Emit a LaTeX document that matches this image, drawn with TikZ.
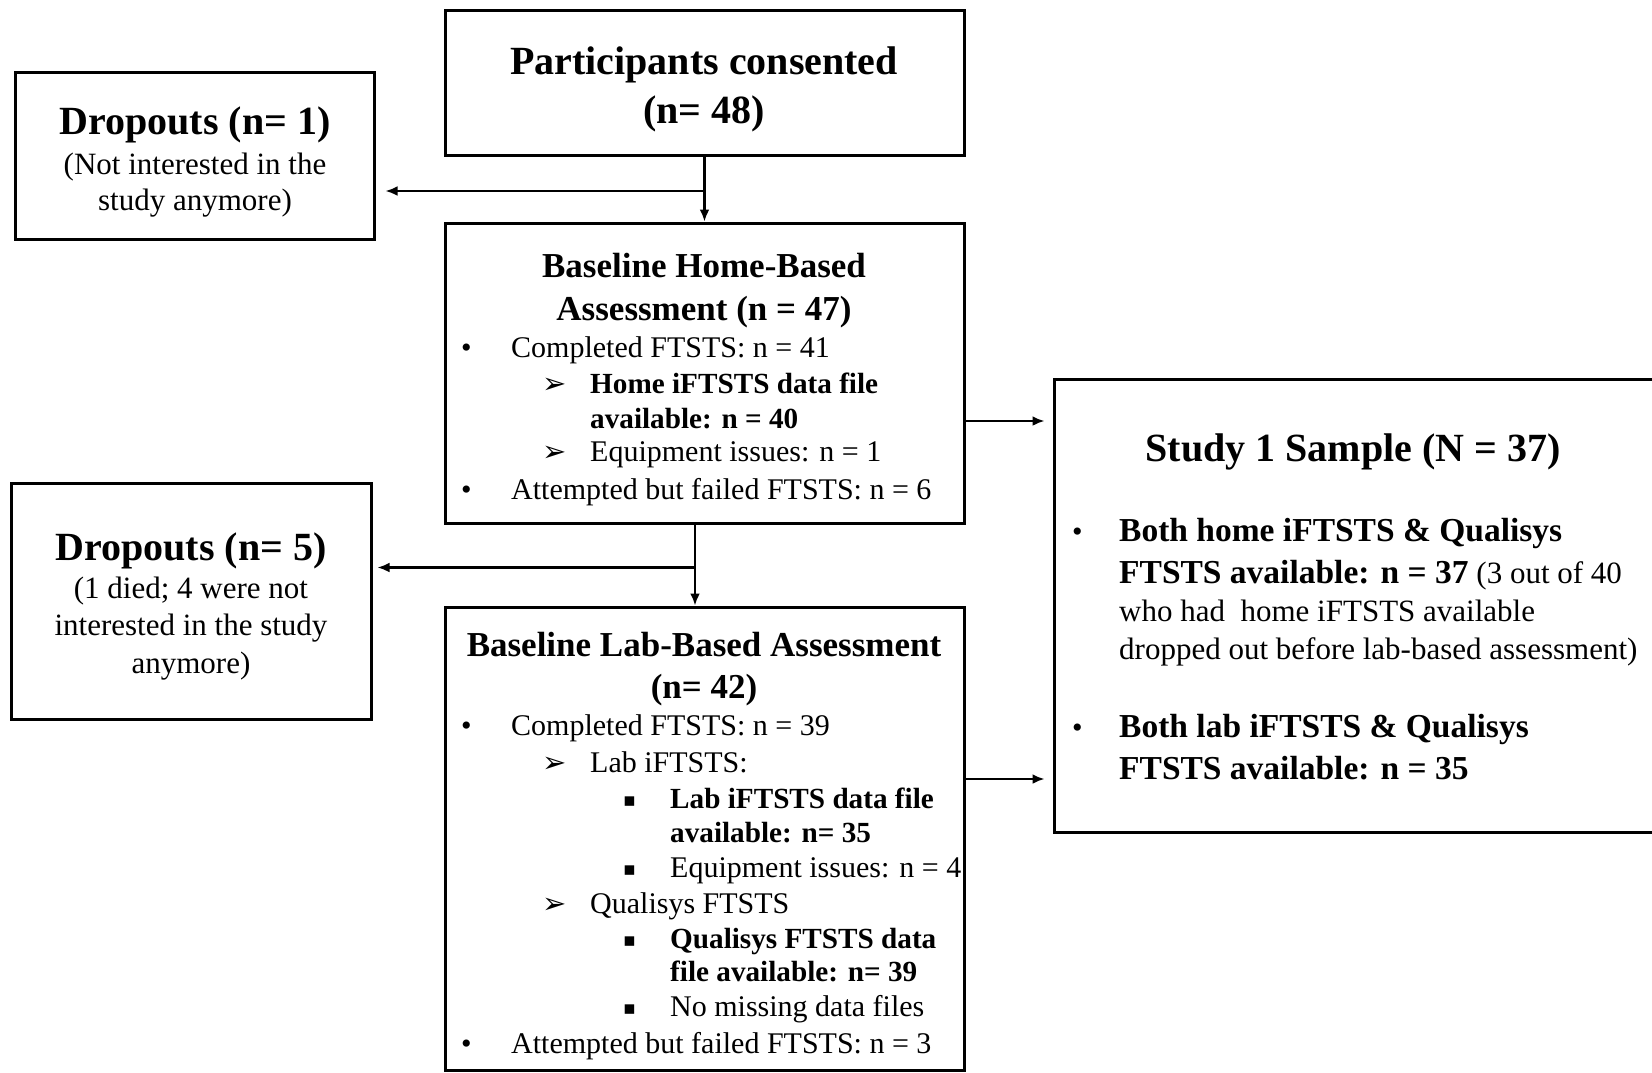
\documentclass[tikz,border=0pt]{standalone}
\usepackage{fontspec}
\setmainfont{Liberation Serif}
\newfontfamily\symfont{DejaVu Sans}
\usetikzlibrary{arrows.meta,positioning,calc}

\begin{document}
\begin{tikzpicture}[x=1pt,y=-1pt,
    box/.style={draw, line width=3pt, inner sep=0pt},
    arr/.style={-{Latex[length=12pt,width=10pt]}, line width=2.5pt},
    ttlbig/.style={anchor=base, inner sep=0pt, font=\fontsize{40}{48}\selectfont\bfseries},
    ttlmid/.style={anchor=base, inner sep=0pt, font=\fontsize{35}{42}\selectfont\bfseries},
    note/.style={anchor=base, inner sep=0pt, font=\fontsize{31}{36}\selectfont},
    item/.style={anchor=base west, inner sep=0pt, font=\fontsize{30}{36}\selectfont},
    itemb/.style={item, font=\fontsize{29.2}{36}\selectfont\bfseries},
    sitem/.style={anchor=base west, inner sep=0pt, font=\fontsize{31}{38}\selectfont},
    sitemb/.style={sitem, font=\fontsize{33.5}{40}\selectfont\bfseries},
    mark1/.style={anchor=base west, inner sep=0pt, font=\fontsize{30}{36}\selectfont},
    mark2/.style={anchor=base west, inner sep=0pt, font=\fontsize{29}{36}\symfont\bfseries},
    mark3/.style={anchor=base west, inner sep=0pt, font=\fontsize{19}{36}\symfont}]
    \useasboundingbox (0,0) rectangle (1652,1072);

    % boxes
    \node[box, minimum width=519pt, minimum height=145pt] (consent) at (704.5,83) {};
    \node[box, minimum width=359pt, minimum height=167pt] (drop1) at (194.5,155.5) {};
    \node[box, minimum width=519pt, minimum height=300pt] (home) at (704.5,373) {};
    \node[box, minimum width=360pt, minimum height=236pt] (drop5) at (191,601) {};
    \node[box, minimum width=519pt, minimum height=463pt] (lab) at (704.5,838.5) {};
    \node[box, minimum width=611pt, minimum height=453pt] (study) at (1359.5,605.5) {};

    % consented
    \node[ttlbig] (consent-t1) at (704,74) {Participants consented};
    \node[ttlbig] (consent-t2) at (704,123) {(n= 48)};

    % first dropouts
    \node[ttlbig] (drop1-t) at (195,134) {Dropouts (n= 1)};
    \node[note] (drop1-n1) at (195,174) {(Not interested in the};
    \node[note] (drop1-n2) at (195,210) {study anymore)};

    % home-based assessment
    \node[ttlmid] (home-t1) at (704,277) {Baseline Home-Based};
    \node[ttlmid] (home-t2) at (704,320) {Assessment (n = 47)};
    \node[mark1] at (461,357) {•};
    \node[item] (home-a) at (511,357) {Completed FTSTS: n = 41};
    \node[mark2] at (542,393) {➢};
    \node[itemb] (home-b) at (590,393) {Home iFTSTS data file};
    \node[itemb] (home-c) at (590,428) {available: n = 40};
    \node[mark2] at (542,461) {➢};
    \node[item] (home-d) at (590,461) {Equipment issues: n = 1};
    \node[mark1] at (461,499) {•};
    \node[item] (home-e) at (511,499) {Attempted but failed FTSTS: n = 6};

    % second dropouts
    \node[ttlbig] (drop5-t) at (191,560) {Dropouts (n= 5)};
    \node[note] (drop5-n1) at (191,598) {(1 died; 4 were not};
    \node[note] (drop5-n2) at (191,635) {interested in the study};
    \node[note] (drop5-n3) at (191,673) {anymore)};

    % lab-based assessment
    \node[ttlmid] (lab-t1) at (704,656) {Baseline Lab-Based Assessment};
    \node[ttlmid] (lab-t2) at (704,698) {(n= 42)};
    \node[mark1] at (461,735) {•};
    \node[item] (lab-a) at (511,735) {Completed FTSTS: n = 39};
    \node[mark2] at (542,772) {➢};
    \node[item] (lab-b) at (590,772) {Lab iFTSTS:};
    \node[mark3] at (623,806) {▪};
    \node[itemb] (lab-c) at (670,808) {Lab iFTSTS data file};
    \node[itemb] (lab-d) at (670,842) {available: n= 35};
    \node[mark3] at (623,875) {▪};
    \node[item] (lab-e) at (670,877) {Equipment issues: n = 4};
    \node[mark2] at (542,913) {➢};
    \node[item] (lab-f) at (590,913) {Qualisys FTSTS};
    \node[mark3] at (623,946) {▪};
    \node[itemb] (lab-g) at (670,948) {Qualisys FTSTS data};
    \node[itemb] (lab-h) at (670,981) {file available: n= 39};
    \node[mark3] at (623,1014) {▪};
    \node[item] (lab-i) at (670,1016) {No missing data files};
    \node[mark1] at (461,1053) {•};
    \node[item] (lab-j) at (511,1053) {Attempted but failed FTSTS: n = 3};

    % study sample
    \node[ttlbig] (study-t) at (1353,461) {Study 1 Sample (N = 37)};
    \node[mark1] at (1072,541) {•};
    \node[sitemb] (study-a) at (1119,541) {Both home iFTSTS \& Qualisys};
    \node[sitem] (study-b) at (1119,583) {{\fontsize{33.5}{40}\selectfont\bfseries FTSTS available: n = 37} (3 out of 40};
    \node[sitem] (study-c) at (1119,621) {who had\ \ home iFTSTS available};
    \node[sitem] (study-d) at (1119,659) {dropped out before lab-based assessment)};
    \node[mark1] at (1072,737) {•};
    \node[sitemb] (study-e) at (1119,737) {Both lab iFTSTS \& Qualisys};
    \node[sitemb] (study-f) at (1119,779) {FTSTS available: n = 35};

    % connectors
    \coordinate (split1) at ($(consent.south)+(0,34)$);
    \coordinate (split2) at ($(home.south)+(-9.5,43)$);
    \draw[arr] (consent.south) -- (home.north);
    \draw[arr, shorten >=10pt] (split1) -- (split1 -| drop1.east);
    \draw[arr] (home.south -| split2) -- (lab.north -| split2);
    \draw[arr, shorten >=5pt] (split2) -- (split2 -| drop5.east);
    \coordinate (home-out) at ($(home.east)+(0,48)$);
    \coordinate (lab-out) at ($(lab.east)+(0,-59.5)$);
    \draw[arr, shorten >=8pt] (home-out) -- (home-out -| study.west);
    \draw[arr, shorten >=8pt] (lab-out) -- (lab-out -| study.west);
\end{tikzpicture}
\end{document}
